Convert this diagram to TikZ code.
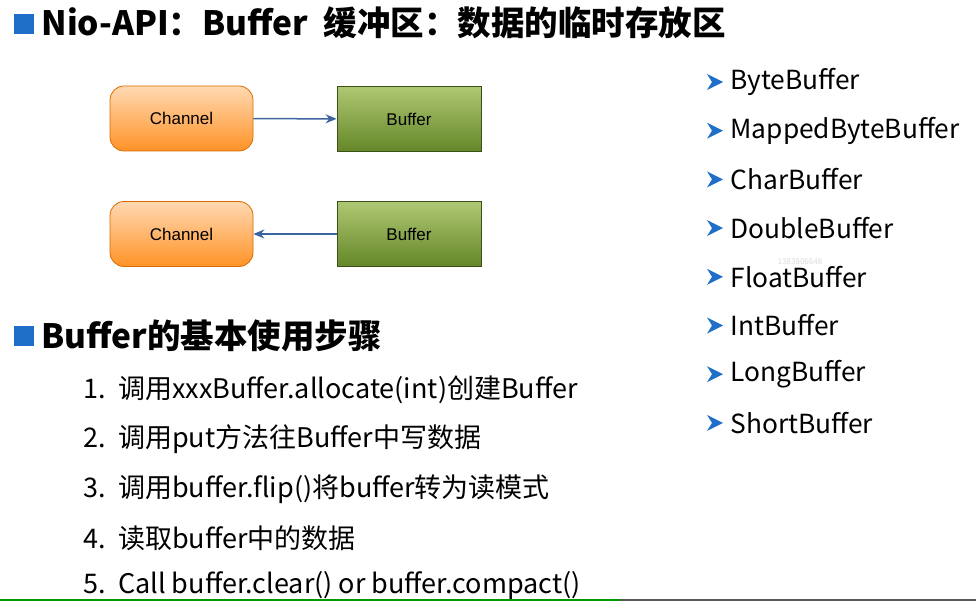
\documentclass[tikz,border=0pt]{standalone}
\usepackage{fontspec}
\setmainfont{Noto Sans CJK SC}
\newfontfamily\boxfont{Liberation Sans}
\usetikzlibrary{positioning,arrows.meta}
\definecolor{bulletblue}{RGB}{31,110,200}
\definecolor{arrowblue}{RGB}{60,100,160}
\definecolor{olivetop}{RGB}{175,200,115}
\definecolor{olivebot}{RGB}{100,135,40}
\tikzset{
  chanbox/.style={draw=orange!85!black, thick, rounded corners=14pt, minimum width=143pt, minimum height=65pt,
    top color=orange!30, bottom color=orange!85, font=\boxfont\fontsize{17}{19}\selectfont},
  bufbox/.style={draw=olivebot!60!black, thick, minimum width=144pt, minimum height=65pt,
    top color=olivetop, bottom color=olivebot, font=\boxfont\fontsize{17}{19}\selectfont},
  flow/.style={arrowblue, line width=1.5pt, -{Stealth[length=11pt,width=9pt]}},
  heading/.style={anchor=west, font=\bfseries\fontsize{33.5}{36}\selectfont},
  stepitem/.style={anchor=west, font=\fontsize{27}{30}\selectfont},
  typeitem/.style={anchor=west, font=\fontsize{26.3}{28}\selectfont}
}
\begin{document}
\begin{tikzpicture}[x=1pt,y=-1pt]
  \useasboundingbox (0,0) rectangle (976,601);
  % headings
  \fill[bulletblue] (14,14) rectangle (34,34);
  \node[heading] (title) at (38,23) {Nio-API：Buffer\ \ 缓冲区：数据的临时存放区};
  \fill[bulletblue] (14,326) rectangle (34,346);
  \node[heading] (steps) at (38,336) {Buffer的基本使用步骤};
  % channel / buffer
  \node[chanbox] (ch1) at (181.5,118.5) {Channel};
  \node[bufbox] (buf1) at (409,119) {Buffer};
  \node[chanbox] (ch2) at (181.5,234) {Channel};
  \node[bufbox] (buf2) at (409,234) {Buffer};
  \draw[flow] (ch1) -- (buf1);
  \draw[flow] (buf2) -- (ch2);
  % steps
  \node[stepitem] (s1) at (80,390) {1.\ \ 调用xxxBuffer.allocate(int)创建Buffer};
  \node[stepitem] (s2) at (80,439) {2.\ \ 调用put方法往Buffer中写数据};
  \node[stepitem] (s3) at (80,489) {3.\ \ 调用buffer.flip()将buffer转为读模式};
  \node[stepitem] (s4) at (80,538) {4.\ \ 读取buffer中的数据};
  \node[stepitem] (s5) at (80,586) {5.\ \ Call buffer.clear() or buffer.compact()};
  % buffer types
  \foreach \name [count=\i from 0] in {ByteBuffer, MappedByteBuffer, CharBuffer, DoubleBuffer,
      FloatBuffer, IntBuffer, LongBuffer, ShortBuffer} {
    \fill[bulletblue] (707,{74+48.7*\i}) -- (723,{82+48.7*\i}) -- (707,{90+48.7*\i}) -- (712,{82+48.7*\i}) -- cycle;
    \node[typeitem] (t\i) at (727,{82+48.7*\i}) {\name};
  }
  \node[gray!30, font=\fontsize{8}{9}\selectfont] (mark) at (800,262) {1383806648};
  % bottom edge
  \draw[green!60!black, line width=1.5pt] (0,600) -- (620,600);
  \draw[gray!70!black, line width=1.5pt] (620,600) -- (976,600);
\end{tikzpicture}
\end{document}
